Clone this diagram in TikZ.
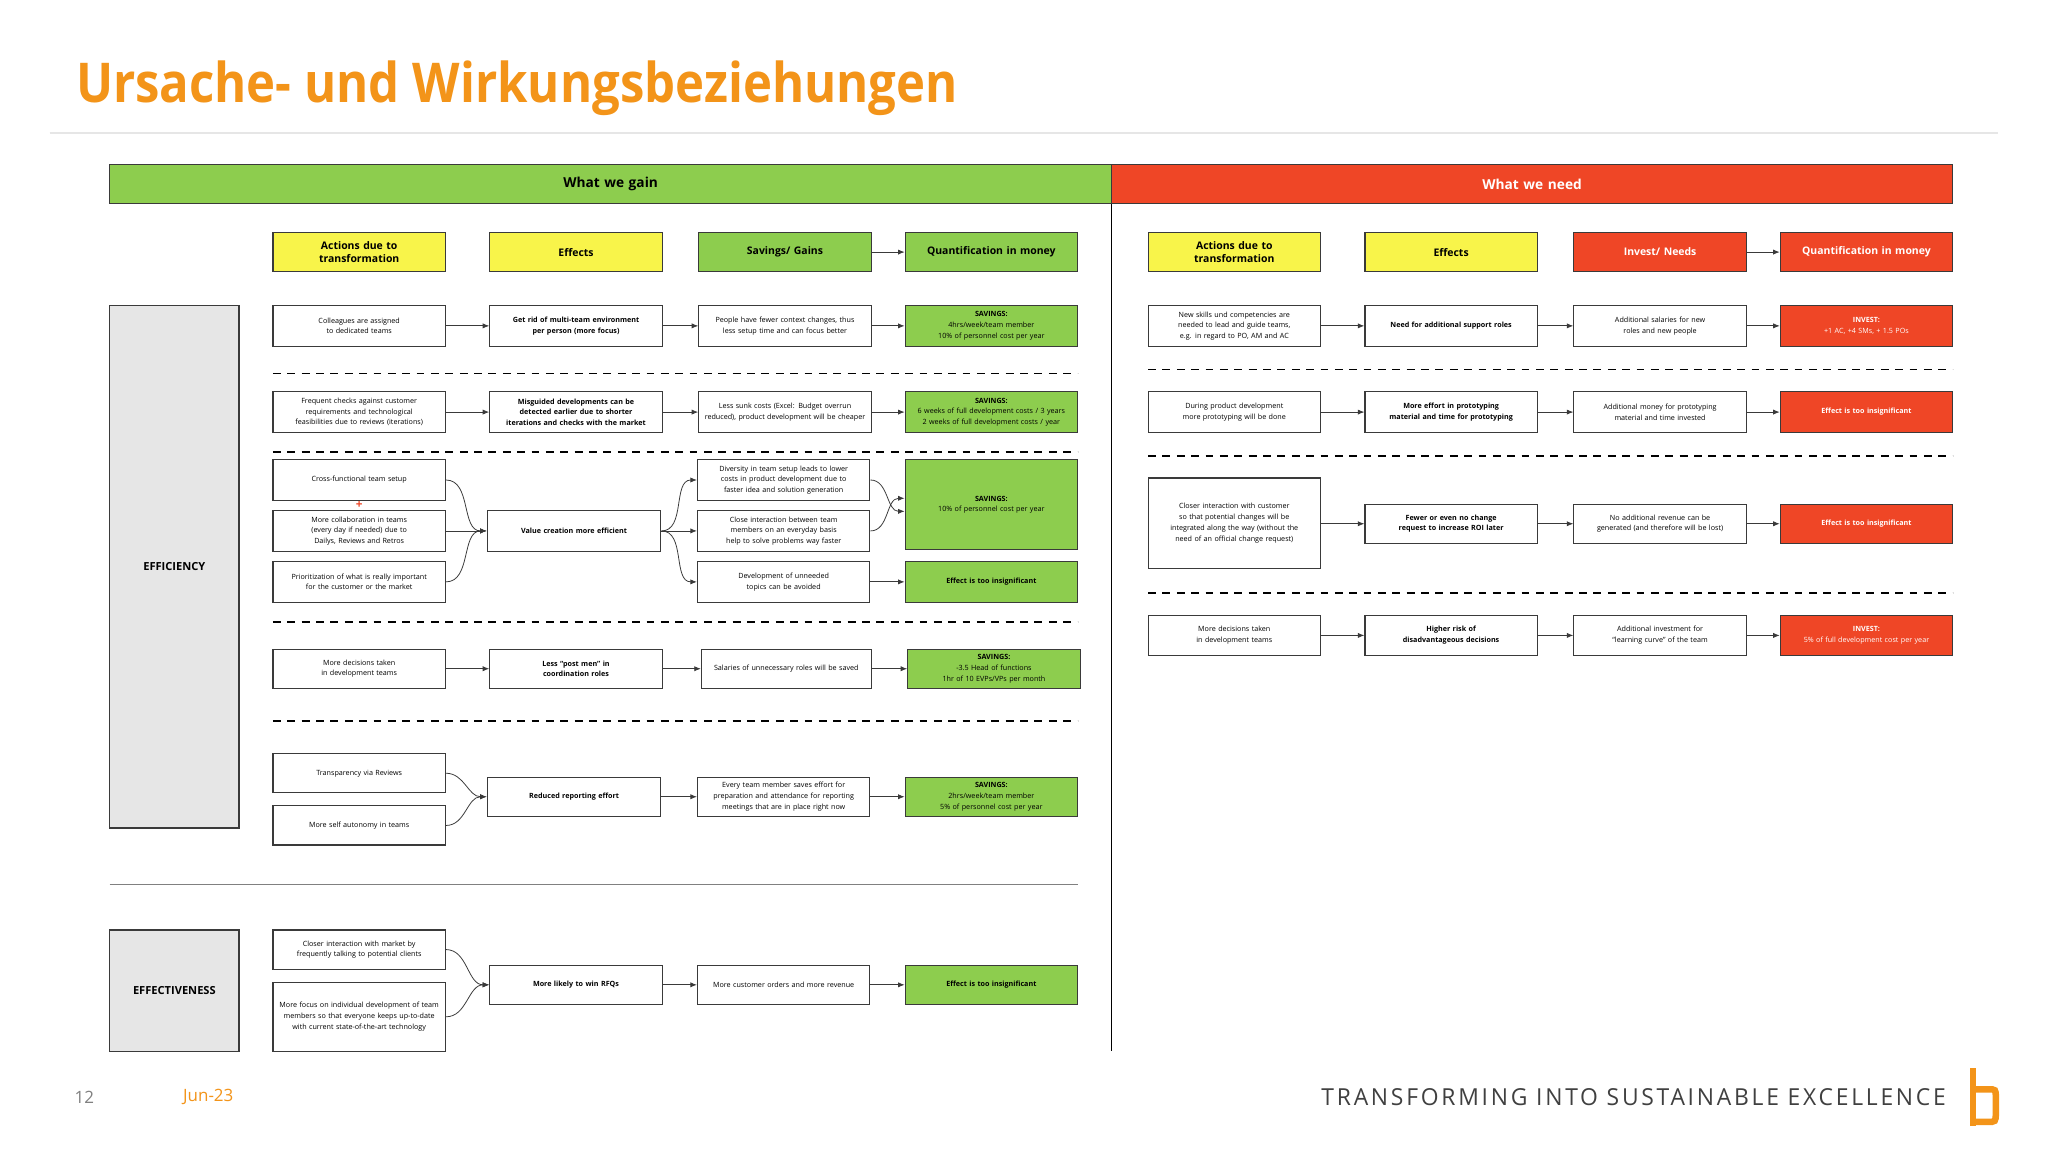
\documentclass[tikz,border=0pt]{standalone}
\usepackage{fontspec}
\setmainfont{Open Sans}
\usetikzlibrary{arrows.meta}
\definecolor{gn}{HTML}{8DCD4E}
\definecolor{rd}{HTML}{EF4626}
\definecolor{yl}{HTML}{F8F44A}
\definecolor{og}{HTML}{F39419}
\definecolor{bd}{HTML}{3A3A3A}
\definecolor{lg}{HTML}{E6E6E6}
\newcommand\mybox[7]{\node[#6,minimum width={(#4-#2)*1pt},minimum height={(#5-#3)*1pt},text width={(#4-#2-6)*1pt}] (#1) at ({(#2+#4)/2},{(#3+#5)/2}) {#7};}
\tikzset{
 bx/.style={draw=bd,line width=0.9pt,fill=white,inner sep=1pt,align=center,font=\fontsize{5.5}{8.2}\selectfont,execute at begin node={\hyphenpenalty=10000\exhyphenpenalty=10000}},
 bbx/.style={bx,font=\fontsize{5.5}{8.2}\selectfont\bfseries},
 gbx/.style={bx,fill=gn},
 rbx/.style={bx,fill=rd,text=white},
 hy/.style={bx,fill=yl,font=\fontsize{8}{10.5}\selectfont\bfseries},
 hg/.style={bx,fill=gn,font=\fontsize{8}{10.5}\selectfont\bfseries},
 hr/.style={bx,fill=rd,text=white,font=\fontsize{8}{10.5}\selectfont\bfseries},
 bar/.style={bx,font=\fontsize{10.5}{12}\selectfont\bfseries},
 arr/.style={-{Latex[length=5pt,width=4pt]},line width=0.6pt,draw=bd},
 dsh/.style={dash pattern=on 6pt off 5pt,line width=1.3pt,draw=black},
}
\begin{document}
\begin{tikzpicture}[x=1pt,y=-1pt]
\useasboundingbox[fill=white] (0,0) rectangle (1568,882);
% title
\node[anchor=north west,inner sep=0,text=og] (title) at (58,46) {\resizebox*{675pt}{42pt}{\bfseries Ursache- und Wirkungsbeziehungen}};
\draw[lg,line width=1.2pt] (38,102) -- (1530,102);
% header bars
\mybox{gain}{84}{126}{851}{156}{bar,fill=gn}{What we gain}
\mybox{need}{851}{126}{1495}{156}{bar,fill=rd,text=white}{What we need}
\draw[black,line width=1pt] (851,156) -- (851,805);
% column headers
\mybox{h1}{209}{178}{341}{208}{hy}{Actions due to\\transformation}
\mybox{h2}{375}{178}{507}{208}{hy}{Effects}
\mybox{h3}{535}{178}{667}{208}{hg}{Savings/ Gains}
\mybox{h4}{693}{178}{825}{208}{hg}{Quantification in money}
\draw[arr] (h3) -- (h4);
\mybox{k1}{879}{178}{1011}{208}{hy}{Actions due to\\transformation}
\mybox{k2}{1045}{178}{1177}{208}{hy}{Effects}
\mybox{k3}{1205}{178}{1337}{208}{hr}{Invest/ Needs}
\mybox{k4}{1363}{178}{1495}{208}{hr}{Quantification in money}
\draw[arr] (k3) -- (k4);
% side labels
\mybox{eff}{84}{234}{183}{634}{bx,fill=lg,font=\fontsize{8.5}{10}\selectfont\bfseries}{EFFICIENCY}
\mybox{efv}{84}{712}{183}{805}{bx,fill=lg,font=\fontsize{8.5}{10}\selectfont\bfseries}{EFFECTIVENESS}
% row 1
\mybox{a1}{209}{234}{341}{265}{bx}{Colleagues are assigned\\to dedicated teams}
\mybox{b1}{375}{234}{507}{265}{bbx}{Get rid of multi-team environment per person (more focus)}
\mybox{c1}{535}{234}{667}{265}{bx}{People have fewer context changes, thus less setup time and can focus better}
\mybox{d1}{693}{234}{825}{265}{gbx}{\textbf{SAVINGS:}\\4hrs/week/team member\\10\% of personnel cost per year}
\draw[arr] (a1)--(b1); \draw[arr] (b1)--(c1); \draw[arr] (c1)--(d1);
\draw[dsh] (209,286) -- (825,286);
% row 2
\mybox{a2}{209}{300}{341}{331}{bx}{Frequent checks against customer requirements and technological feasibilities due to reviews (iterations)}
\mybox{b2}{375}{300}{507}{331}{bbx}{Misguided developments can be detected earlier due to shorter iterations and checks with the market}
\mybox{c2}{535}{300}{667}{331}{bx}{Less sunk costs (Excel: Budget overrun reduced), product development will be cheaper}
\mybox{d2}{693}{300}{825}{331}{gbx}{\textbf{SAVINGS:}\\6 weeks of full development costs / 3 years\\2 weeks of full development costs / year}
\draw[arr] (a2)--(b2); \draw[arr] (b2)--(c2); \draw[arr] (c2)--(d2);
\draw[dsh] (209,346) -- (825,346);
% row 3
\mybox{a3}{209}{352}{341}{383}{bx}{Cross-functional team setup}
\mybox{a4}{209}{391}{341}{422}{bx}{More collaboration in teams\\(every day if needed) due to Dailys, Reviews and Retros}
\mybox{a5}{209}{430}{341}{461}{bx}{Prioritization of what is really important for the customer or the market}
\node[text=rd,font=\bfseries\fontsize{9}{9}\selectfont,inner sep=0] (plus) at (275,387) {+};
\mybox{v}{373}{391}{506}{422}{bbx}{Value creation more efficient}
\mybox{c3}{534}{352}{666}{383}{bx}{Diversity in team setup leads to lower costs in product development due to faster idea and solution generation}
\mybox{c4}{534}{391}{666}{422}{bx}{Close interaction between team members on an everyday basis help to solve problems way faster}
\mybox{c5}{534}{430}{666}{461}{bx}{Development of unneeded topics can be avoided}
\mybox{d3}{693}{352}{825}{421}{gbx}{\textbf{SAVINGS:}\\10\% of personnel cost per year}
\mybox{d4}{693}{430}{825}{461}{gbx,font=\fontsize{5.5}{8.2}\selectfont\bfseries}{Effect is too insignificant}
\draw[arr] (a3.east) to[out=0,in=180] (v.west);
\draw[arr] (a4.east) -- (v.west);
\draw[arr] (a5.east) to[out=0,in=180] (v.west);
\draw[arr] (v.east) to[out=0,in=180] (c3.west);
\draw[arr] (v.east) -- (c4.west);
\draw[arr] (v.east) to[out=0,in=180] (c5.west);
\draw[arr] (c3.east) to[out=0,in=180] ([yshift=-5pt]d3.west);
\draw[arr] (c4.east) to[out=0,in=180] ([yshift=5pt]d3.west);
\draw[arr] (c5) -- (d4);
\draw[dsh] (209,476) -- (825,476);
% row 4
\mybox{a6}{209}{497}{341}{527}{bx}{More decisions taken\\in development teams}
\mybox{b6}{375}{497}{507}{527}{bbx}{Less ``post men'' in\\coordination roles}
\mybox{c6}{537}{497}{667}{527}{bx}{Salaries of unnecessary roles will be saved}
\mybox{d6}{695}{497}{827}{527}{gbx}{\textbf{SAVINGS:}\\-3.5 Head of functions\\1hr of 10 EVPs/VPs per month}
\draw[arr] (a6)--(b6); \draw[arr] (b6)--(c6); \draw[arr] (c6)--(d6);
\draw[dsh] (209,552) -- (825,552);
% row 5
\mybox{a7}{209}{577}{341}{607}{bx}{Transparency via Reviews}
\mybox{a8}{209}{617}{341}{647}{bx}{More self autonomy in teams}
\mybox{b7}{373}{595}{506}{625}{bbx}{Reduced reporting effort}
\mybox{c7}{534}{595}{666}{625}{bx}{Every team member saves effort for preparation and attendance for reporting meetings that are in place right now}
\mybox{d7}{693}{595}{825}{625}{gbx}{\textbf{SAVINGS:}\\2hrs/week/team member\\5\% of personnel cost per year}
\draw[arr] (a7.east) to[out=0,in=180] (b7.west);
\draw[arr] (a8.east) to[out=0,in=180] (b7.west);
\draw[arr] (b7)--(c7); \draw[arr] (c7)--(d7);
\draw[gray,line width=1pt] (84,677) -- (825,677);
% row 6
\mybox{a9}{209}{712}{341}{742}{bx}{Closer interaction with market by frequently talking to potential clients}
\mybox{a10}{209}{752}{341}{805}{bx}{More focus on individual development of team members so that everyone keeps up-to-date with current state-of-the-art technology}
\mybox{b9}{375}{739}{507}{769}{bbx}{More likely to win RFQs}
\mybox{c9}{534}{739}{666}{769}{bx}{More customer orders and more revenue}
\mybox{d9}{693}{739}{825}{769}{gbx,font=\fontsize{5.5}{8.2}\selectfont\bfseries}{Effect is too insignificant}
\draw[arr] (a9.east) to[out=0,in=180] (b9.west);
\draw[arr] (a10.east) to[out=0,in=180] (b9.west);
\draw[arr] (b9)--(c9); \draw[arr] (c9)--(d9);
% right side
\mybox{p1}{879}{234}{1011}{265}{bx}{New skills und competencies are needed to lead and guide teams, e.g. in regard to PO, AM and AC}
\mybox{q1}{1045}{234}{1177}{265}{bbx}{Need for additional support roles}
\mybox{r1}{1205}{234}{1337}{265}{bx}{Additional salaries for new\\roles and new people}
\mybox{s1}{1363}{234}{1495}{265}{rbx}{\textbf{INVEST:}\\+1 AC, +4 SMs, + 1.5 POs}
\draw[arr] (p1)--(q1); \draw[arr] (q1)--(r1); \draw[arr] (r1)--(s1);
\draw[dsh] (879,283) -- (1495,283);
\mybox{p2}{879}{300}{1011}{331}{bx}{During product development more prototyping will be done}
\mybox{q2}{1045}{300}{1177}{331}{bbx}{More effort in prototyping material and time for prototyping}
\mybox{r2}{1205}{300}{1337}{331}{bx}{Additional money for prototyping material and time invested}
\mybox{s2}{1363}{300}{1495}{331}{rbx,font=\fontsize{5.5}{8.2}\selectfont\bfseries}{Effect is too insignificant}
\draw[arr] (p2)--(q2); \draw[arr] (q2)--(r2); \draw[arr] (r2)--(s2);
\draw[dsh] (879,349) -- (1495,349);
\mybox{p3}{879}{366}{1011}{435}{bx}{Closer interaction with customer so that potential changes will be integrated along the way (without the need of an official change request)}
\mybox{q3}{1045}{386}{1177}{416}{bbx}{Fewer or even no change request to increase ROI later}
\mybox{r3}{1205}{386}{1337}{416}{bx}{No additional revenue can be generated (and therefore will be lost)}
\mybox{s3}{1363}{386}{1495}{416}{rbx,font=\fontsize{5.5}{8.2}\selectfont\bfseries}{Effect is too insignificant}
\draw[arr] (p3.east|-q3) -- (q3); \draw[arr] (q3)--(r3); \draw[arr] (r3)--(s3);
\draw[dsh] (879,454) -- (1495,454);
\mybox{p4}{879}{471}{1011}{502}{bx}{More decisions taken\\in development teams}
\mybox{q4}{1045}{471}{1177}{502}{bbx}{Higher risk of\\disadvantageous decisions}
\mybox{r4}{1205}{471}{1337}{502}{bx}{Additional investment for\\``learning curve'' of the team}
\mybox{s4}{1363}{471}{1495}{502}{rbx}{\textbf{INVEST:}\\5\% of full development cost per year}
\draw[arr] (p4)--(q4); \draw[arr] (q4)--(r4); \draw[arr] (r4)--(s4);
% footer
\node[anchor=west,text=gray,font=\fontsize{13}{13}\selectfont,inner sep=0] (pg) at (57,840) {12};
\node[anchor=west,text=og,font=\fontsize{13}{13}\selectfont,inner sep=0] (dt) at (140,840) {Jun-23};
\node[anchor=east,text=black!75,inner sep=0] (tag) at (1490,840) {\resizebox{478pt}{13pt}{\addfontfeatures{LetterSpace=12}TRANSFORMING INTO SUSTAINABLE EXCELLENCE}};
\fill[og] (1508,818) rectangle (1513,862);
\draw[og,line width=5pt] (1510.5,834) -- (1522,834) .. controls (1528,834) and (1528,834) .. (1528,840) -- (1528,852) .. controls (1528,859) and (1528,859) .. (1521,859) -- (1510.5,859);
\end{tikzpicture}
\end{document}
